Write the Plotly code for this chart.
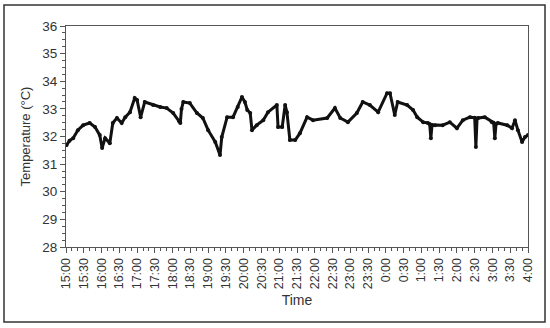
import plotly.graph_objects as go
from datetime import datetime, timedelta

# minutes elapsed since 15:00
minutes = [0, 1, 6, 12, 20, 29, 40, 49, 57, 61, 66, 74, 79, 86, 94, 100, 108, 116, 120, 126, 133,
           147, 159, 170, 181, 191, 193, 195, 198, 209, 221, 231, 240, 252, 260, 263, 272, 282,
           290, 297, 302, 306, 311, 314, 322, 333, 341, 356, 358, 365, 370, 373, 378, 387, 395,
           407, 417, 441, 454, 463, 476, 491, 501, 513, 527, 542, 547, 555, 560, 576, 586, 593,
           603, 611, 614, 616, 618, 623, 636, 648, 660, 670, 682, 690, 692, 694, 696, 707, 719,
           722, 724, 726, 729, 745, 753, 758, 763, 770, 775, 780]
temps = [31.7, 31.69, 31.85, 31.94, 32.23, 32.41, 32.49, 32.34, 32.05, 31.58, 31.94, 31.76, 32.49,
         32.67, 32.49, 32.70, 32.88, 33.39, 33.32, 32.70, 33.25,
         33.14, 33.07, 33.03, 32.85, 32.55, 32.49, 33.0, 33.25, 33.21, 32.85, 32.67, 32.23, 31.80,
         31.33, 31.98, 32.70, 32.70,
         33.07, 33.43, 33.25, 32.96, 32.85, 32.23, 32.41, 32.59, 32.88, 33.14, 32.34, 32.34, 33.14,
         32.88, 31.87, 31.87, 32.12,
         32.70, 32.59, 32.67, 33.03, 32.67, 32.52, 32.85, 33.25, 33.14, 32.88, 33.57, 33.57, 32.78,
         33.25, 33.14, 32.96, 32.70,
         32.52, 32.49, 32.45, 31.94, 32.42, 32.41, 32.41, 32.52, 32.30, 32.59, 32.70, 32.68, 31.62,
         32.65, 32.67, 32.70, 32.52,
         32.50, 31.94, 32.45, 32.49, 32.41, 32.30, 32.59, 32.23, 31.80, 31.98, 32.05]

tick_labels = ["15:00", "15:30", "16:00", "16:30", "17:00", "17:30", "18:00", "18:30", "19:00",
               "19:30", "20:00", "20:30", "21:00", "21:30", "22:00", "22:30", "23:00", "23:30",
               "0:00", "0:30", "1:00", "1:30", "2:00", "2:30", "3:00", "3:30", "4:00"]

start = datetime(2020, 1, 1, 15, 0)
times = [start + timedelta(minutes=m) for m in minutes]
tick_vals = [start + timedelta(minutes=30 * i) for i in range(len(tick_labels))]

fig = go.Figure()
fig.add_trace(go.Scatter(
    x=times, y=temps, mode="lines+markers",
    line=dict(color="#111111", width=3),
    marker=dict(color="#111111", size=4),
    showlegend=False,
))

axis_color = "#555555"
font_family = "Liberation Sans, Arial, sans-serif"

fig.update_layout(
    width=550, height=328,
    margin=dict(l=66, r=22, t=26, b=81),
    paper_bgcolor="white", plot_bgcolor="white",
    font=dict(family=font_family, size=12, color="#333333"),
    xaxis=dict(
        range=[tick_vals[0], tick_vals[-1]],
        tickvals=tick_vals, ticktext=tick_labels, tickangle=-90,
        ticks="outside", ticklen=5, tickcolor=axis_color, tickwidth=1,
        minor=dict(ticks="outside", ticklen=3, dtick=600000, tickcolor=axis_color),
        showline=True, linecolor=axis_color, linewidth=1, mirror=True,
        showgrid=False, zeroline=False,
        tickfont=dict(size=12.5),
        title=dict(text="Time", font=dict(size=14), standoff=6),
    ),
    yaxis=dict(
        range=[28, 36], dtick=1,
        ticks="outside", ticklen=5, tickcolor=axis_color, tickwidth=1,
        minor=dict(ticks="outside", ticklen=3, dtick=0.25, tickcolor=axis_color),
        showline=True, linecolor=axis_color, linewidth=1, mirror=True,
        showgrid=False, zeroline=False,
        tickfont=dict(size=13.5),
        title=dict(text="Temperature (°C)", font=dict(size=13), standoff=8),
    ),
    shapes=[dict(type="rect", xref="paper", yref="paper",
                 x0=(4 - 66) / 462, x1=(545 - 66) / 462,
                 y0=-(322 - 247) / 221, y1=1 + (26 - 5) / 221,
                 line=dict(color="#333333", width=1.5))],
)

fig.write_html("out.html", config={"displayModeBar": False},
               post_script="document.body.style.margin='0';")
